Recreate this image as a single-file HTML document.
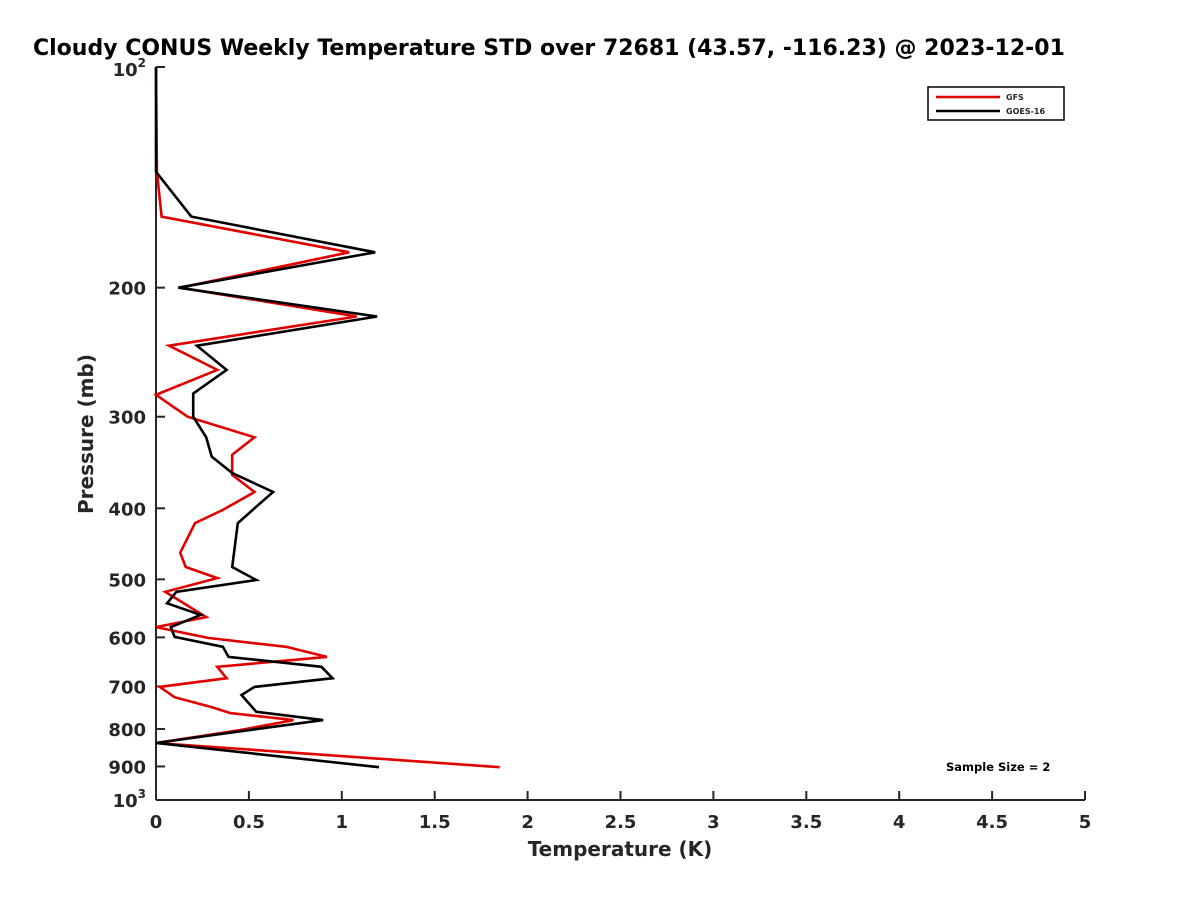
<!DOCTYPE html>
<html><head><meta charset="utf-8"><style>
body{margin:0;background:#fff}
svg text{font-family:"DejaVu Sans","Liberation Sans",sans-serif;font-weight:bold;fill:#262626}
</style></head><body>
<svg id="c" width="1200" height="900" xmlns="http://www.w3.org/2000/svg">
<rect width="1200" height="900" fill="#fff"/>
<text x="33" y="55" font-size="22" style="fill:#000">Cloudy CONUS Weekly Temperature STD over 72681 (43.57, -116.23) @ 2023-12-01</text>
<g id="axes"></g>
<g id="lines"></g>
<g>
<rect x="928" y="87" width="136" height="33" fill="#fff" stroke="#000" stroke-width="1.5"/>
<line x1="936" y1="97" x2="1000" y2="97" stroke="#e00000" stroke-width="2.5"/>
<text x="1006" y="100" font-size="8">GFS</text>
<line x1="936" y1="111" x2="1000" y2="111" stroke="#000" stroke-width="2.5"/>
<text x="1006" y="114" font-size="8">GOES-16</text>
</g>
<text x="946" y="771" font-size="11.5" style="fill:#000">Sample Size = 2</text>
<text transform="translate(93,434) rotate(-90)" text-anchor="middle" font-size="20">Pressure (mb)</text>
<text x="620" y="856" text-anchor="middle" font-size="20">Temperature (K)</text>
</svg>
<script>
const xTicks=[0,0.5,1,1.5,2,2.5,3,3.5,4,4.5,5];
const xTickLabels=["0","0.5","1","1.5","2","2.5","3","3.5","4","4.5","5"];
const yTicks=[200,300,400,500,600,700,800,900];
const gfsP=[100,139,160,179,200,219,240,259,280,300,320,338,360,380,402,419,460,481,498,520,563,581,601,618,638,658,682,701,724,747,761,778,803,836,902];
const gfsV=[0,0.005,0.03,1.04,0.13,1.08,0.07,0.33,0,0.17,0.53,0.41,0.41,0.53,0.36,0.21,0.13,0.16,0.33,0.05,0.27,0,0.28,0.70,0.92,0.33,0.38,0.02,0.10,0.30,0.40,0.74,0.45,0,1.85];
const goesP=[100,139,160,179,200,219,240,259,279,300,320,340,358,380,398,419,481,501,520,539,559,581,599,618,638,658,682,701,719,758,778,815,836,902];
const goesV=[0,0,0.19,1.18,0.12,1.19,0.22,0.38,0.20,0.20,0.27,0.30,0.41,0.63,0.54,0.44,0.41,0.54,0.11,0.06,0.24,0.08,0.10,0.36,0.39,0.89,0.95,0.53,0.46,0.54,0.90,0.31,0,1.20];
const X0=156,X1=1085,Y0=67,Y1=800;
const xs=v=>X0+(v/5)*(X1-X0);
const ys=p=>Y0+(Math.log10(p)-2)*(Y1-Y0);
const NS="http://www.w3.org/2000/svg";
const ax=document.getElementById('axes'),ln=document.getElementById('lines');
function mk(t,a,par){const e=document.createElementNS(NS,t);for(const k in a)e.setAttribute(k,a[k]);par.appendChild(e);return e;}
const yl=mk('line',{x1:X0,y1:Y0,x2:X0,y2:Y1,stroke:'#262626','stroke-width':2},ax);


const xl=mk('line',{x1:X0,y1:Y1,x2:X1,y2:Y1,stroke:'#262626','stroke-width':2},ax);


xTicks.forEach((v,i)=>{
 mk('line',{x1:xs(v),y1:Y1,x2:xs(v),y2:Y1-9,stroke:'#262626','stroke-width':2},ax);
 const t=mk('text',{x:xs(v),y:Y1+28,'text-anchor':'middle','font-size':18},ax);
 t.textContent=xTickLabels[i];
 
 
});
[100].concat(yTicks).concat([1000]).forEach(p=>{
 mk('line',{x1:X0,y1:ys(p),x2:X0+9,y2:ys(p),stroke:'#262626','stroke-width':2},ax);
});
yTicks.forEach(p=>{
 const t=mk('text',{x:X0-10,y:ys(p)+7,'text-anchor':'end','font-size':18},ax);
 t.textContent=String(p);
 
 
});
[[100,'2'],[1000,'3']].forEach(([p,e])=>{
 const t=mk('text',{x:X0-10,y:ys(p)+(p===100?9:7),'text-anchor':'end','font-size':18},ax);
 t.innerHTML='10<tspan font-size="12" dy="-9">'+e+'</tspan>';
 
 
});
function series(P,V,col,name){
 const d=P.map((p,i)=>(i?'L':'M')+xs(V[i]).toFixed(1)+','+ys(p).toFixed(1)).join('');
 const e=mk('path',{d:d,fill:'none',stroke:col,'stroke-width':2.6,'stroke-linejoin':'miter'},ln);
 
 
}
series(gfsP,gfsV,'#e00000','gfs-line');
series(goesP,goesV,'#000000','goes16-line');
</script>
</body></html>
